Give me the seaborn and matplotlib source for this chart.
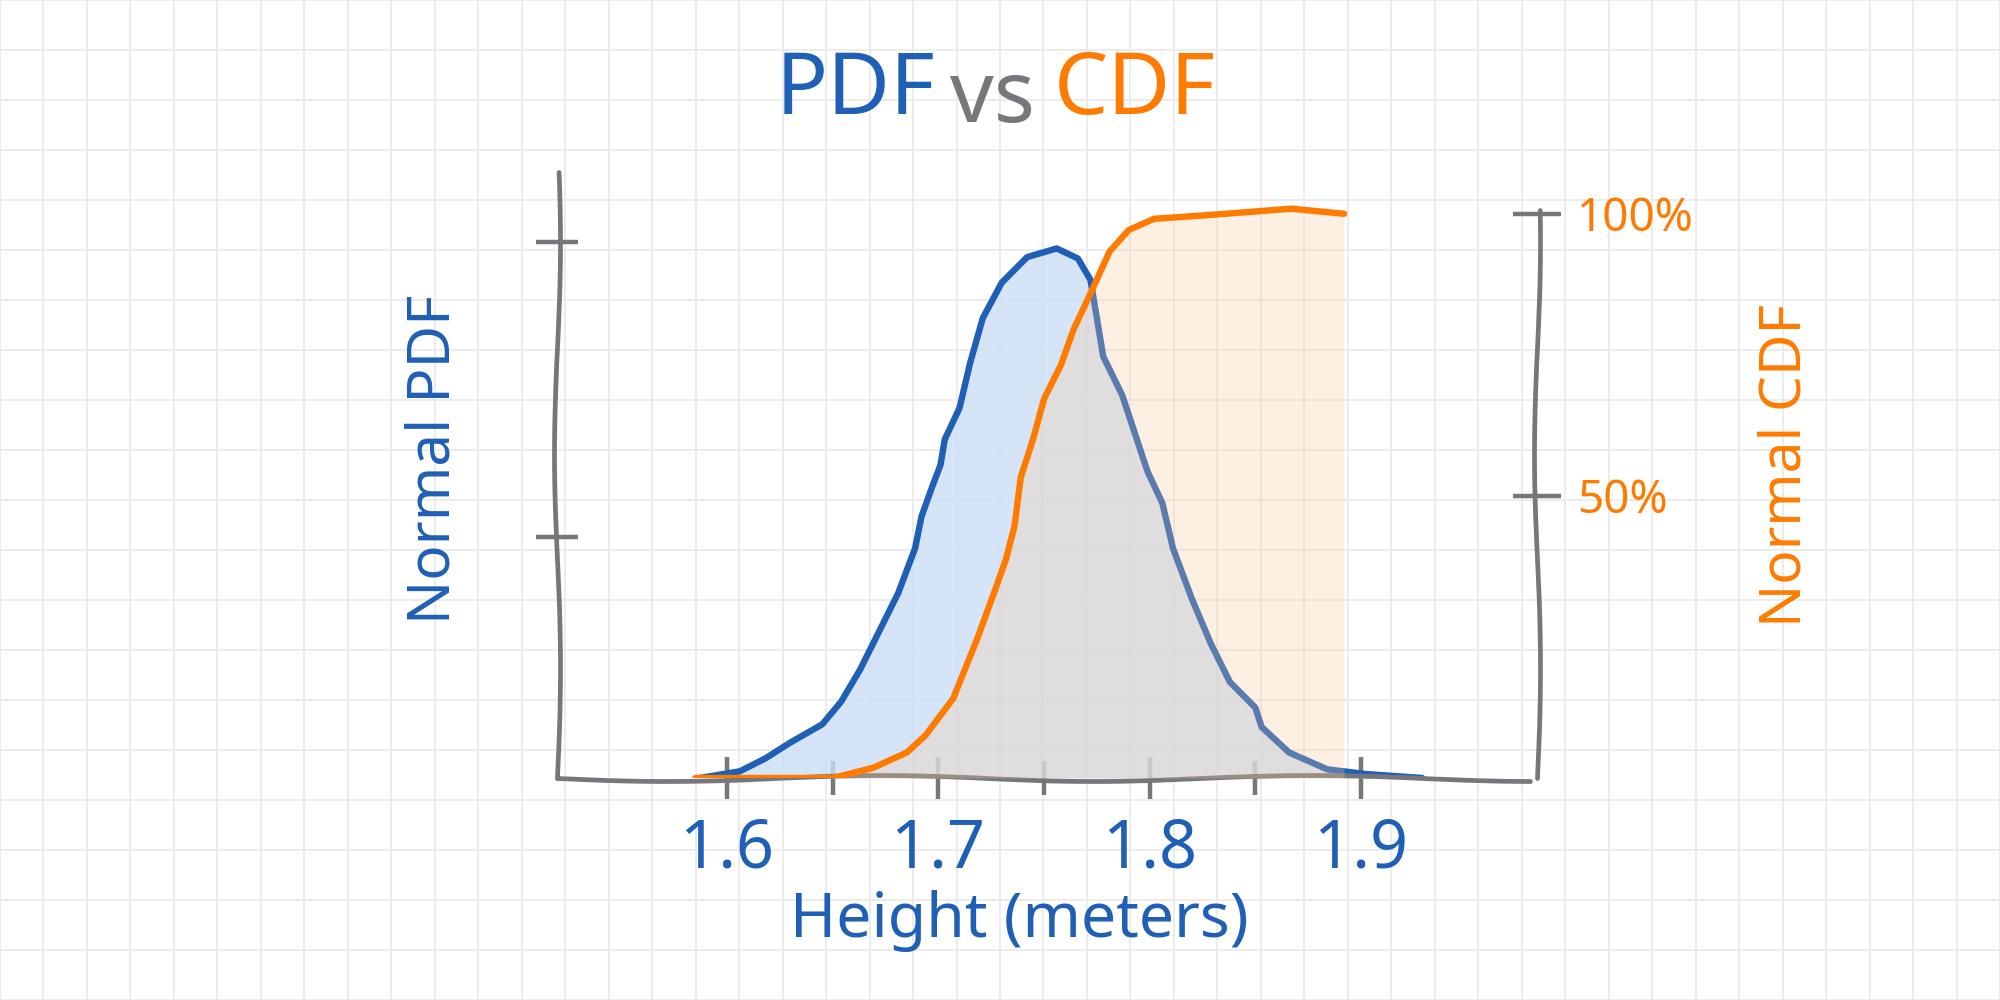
import matplotlib
matplotlib.use("Agg")
import matplotlib.pyplot as plt
import seaborn as sns
import numpy as np

# values
height_pdf = [1.587, 1.606, 1.618, 1.630, 1.645, 1.654, 1.663, 1.672, 1.681, 1.689,
              1.692, 1.697, 1.701, 1.703, 1.710, 1.715, 1.721, 1.730, 1.742, 1.756,
              1.766, 1.772, 1.775, 1.778, 1.787, 1.793, 1.799, 1.806, 1.811, 1.820,
              1.829, 1.838, 1.850, 1.853, 1.866, 1.884, 1.902, 1.929]
pdf_values = [0.0, 0.10, 0.29, 0.53, 0.80, 1.14, 1.62, 2.19, 2.76, 3.43,
              3.90, 4.34, 4.67, 5.05, 5.52, 6.19, 6.86, 7.39, 7.77, 7.90,
              7.75, 7.43, 6.86, 6.29, 5.71, 5.14, 4.57, 4.10, 3.43, 2.67,
              2.00, 1.43, 1.05, 0.76, 0.38, 0.13, 0.06, 0.0]

height_cdf = [1.585, 1.625, 1.650, 1.669, 1.685, 1.694, 1.707, 1.718, 1.727, 1.732,
              1.736, 1.739, 1.745, 1.750, 1.758, 1.764, 1.772, 1.781, 1.790, 1.802,
              1.829, 1.867, 1.892]
cdf_percent = [0.0, 0.0, 0.0, 1.8, 4.5, 7.6, 14.1, 24.3, 33.5, 38.8,
               44.6, 53.3, 60.3, 67.2, 73.2, 79.5, 85.9, 93.3, 97.1, 99.1,
               99.8, 100.9, 100.0]

x_major = [1.6, 1.7, 1.8, 1.9]
x_minor = [1.65, 1.75, 1.85]
pdf_ticks = [3.6, 8.0]
cdf_ticks = [50, 100]
cdf_tick_labels = ["50%", "100%"]

BLUE = "#1f5fb5"
ORANGE = "#ff7b00"
GRAY = "#77777b"

sns.set_theme(style="white")
plt.rcParams["font.family"] = ["Noto Sans", "DejaVu Sans"]

fig = plt.figure(figsize=(10, 5), dpi=200, facecolor="white")

# notebook paper grid behind everything
bg = fig.add_axes([0, 0, 1, 1], zorder=0)
bg.set_xlim(0, 2000)
bg.set_ylim(1000, 0)
for gx in np.linspace(0, 2000, 47):
    bg.axvline(gx, color="#e9e9e9", lw=0.6)
for gy in np.arange(0, 1001, 50):
    bg.axhline(gy, color="#e9e9e9", lw=0.6)
bg.axis("off")

# hand drawn wobble for the axes
plt.rcParams["path.sketch"] = (1.5, 300, 1.5)

ax = fig.add_axes([0.2785, 0.222, 0.49, 0.606], zorder=1)
ax.patch.set_visible(False)
ax2 = ax.twinx()
ax2.set_zorder(2)
ax2.patch.set_visible(False)

ax.set_xlim(1.5195, 1.9833)
ax.set_ylim(0, 9.04)
ax2.set_ylim(0, 107.4)

# PDF
pdf_fill = ax.fill_between(height_pdf, pdf_values, 0, color="#cbdef5", alpha=0.8, lw=0)
pdf_fill.set_sketch_params(None)
sns.lineplot(x=height_pdf, y=pdf_values, ax=ax, color=BLUE, lw=2.3, sort=False,
             solid_capstyle="round", solid_joinstyle="round")

# CDF drawn over it, its light fill tints what is underneath
cdf_fill = ax2.fill_between(height_cdf, cdf_percent, 0, color="#fbcb97", alpha=0.27, lw=0)
cdf_fill.set_sketch_params(None)
sns.lineplot(x=height_cdf, y=cdf_percent, ax=ax2, color=ORANGE, lw=2.3, sort=False,
             solid_capstyle="round", solid_joinstyle="round")
for line in ax.lines + ax2.lines:
    line.set_sketch_params(None)

# axes lines
for s in ["top", "right"]:
    ax.spines[s].set_visible(False)
for s in ["top", "left", "bottom"]:
    ax2.spines[s].set_visible(False)
ax.spines["bottom"].set_bounds(1.5195, 1.98)
ax2.spines["right"].set_bounds(0, 100.7)
for sp in [ax.spines["left"], ax.spines["bottom"], ax2.spines["right"]]:
    sp.set_color(GRAY)
    sp.set_linewidth(1.7)
    sp.set_capstyle("round")
    sp.set_sketch_params(3, 450, 1.5)

ax.set_xticks(x_major)
ax.set_xticks(x_minor, minor=True)
ax.set_xticklabels([f"{v:.1f}" for v in x_major])
ax.tick_params(axis="x", which="major", bottom=True, direction="inout", length=15,
               width=1.6, color=GRAY, labelcolor=BLUE, labelsize=24, pad=6)
ax.tick_params(axis="x", which="minor", bottom=True, direction="inout", length=12,
               width=1.6, color=GRAY)
ax.set_yticks(pdf_ticks)
ax.tick_params(axis="y", left=True, labelleft=False, direction="inout", length=15,
               width=1.6, color=GRAY)
ax2.set_yticks(cdf_ticks, cdf_tick_labels)
ax2.tick_params(axis="y", right=True, direction="inout", length=17, width=1.6,
                color=GRAY, labelcolor=ORANGE, labelsize=16.5, pad=6)
ax.set_xlabel("")
ax.set_ylabel("")
ax2.set_ylabel("")

# labels
ax.text(0.472, -0.236, "Height (meters)", transform=ax.transAxes, color=BLUE,
        fontsize=22.5, ha="center", va="center")
ax.text(-0.1255, 0.526, "Normal PDF", transform=ax.transAxes, color=BLUE,
        fontsize=21, ha="center", va="center", rotation=90)
ax.text(1.254, 0.515, "Normal CDF", transform=ax.transAxes, color=ORANGE,
        fontsize=20.5, ha="center", va="center", rotation=90)

# title in three colours
fig.text(0.4275, 0.908, "PDF", color=BLUE, fontsize=31, ha="center", va="center")
fig.text(0.4965, 0.900, "vs", color=GRAY, fontsize=31, ha="center", va="center")
fig.text(0.5675, 0.908, "CDF", color=ORANGE, fontsize=31, ha="center", va="center")

fig.savefig("out.png", dpi=200, facecolor="white")
